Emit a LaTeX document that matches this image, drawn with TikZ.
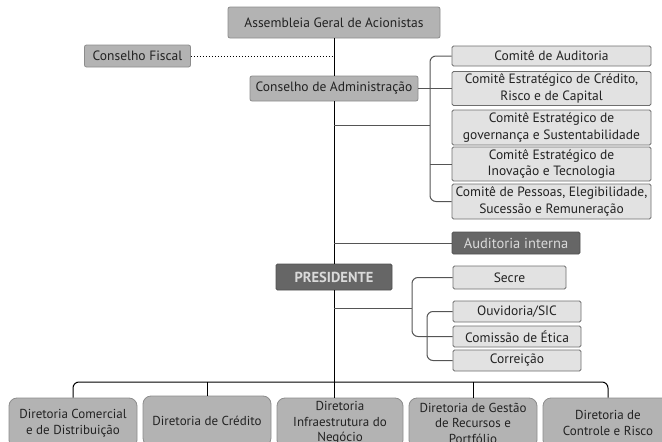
\documentclass[tikz,border=0pt]{standalone}
\usepackage{fontspec}
\setmainfont{PT Sans}
\definecolor{txtgray}{HTML}{222222}
\definecolor{midfill}{HTML}{B3B3B3}
\definecolor{midedge}{HTML}{8C8C8C}
\definecolor{lightfill}{HTML}{E2E2E2}
\definecolor{lightedge}{HTML}{6E6E6E}
\definecolor{darkfill}{HTML}{666666}
\definecolor{darktext}{HTML}{DADADA}
\definecolor{linegray}{HTML}{555555}
\tikzset{
  greybox/.style={draw=midedge, fill=midfill, rounded corners=2pt, line width=0.8pt},
  comitebox/.style={draw=lightedge, fill=lightfill, rounded corners=1.5pt, line width=0.8pt, minimum width=199},
  darkbox/.style={draw=darkfill!80!black, fill=darkfill, rounded corners=1.5pt, line width=0.8pt, text=darktext},
  dirbox/.style={draw=midedge, fill=midfill, rounded corners=8pt, line width=0.8pt, minimum width=128, minimum height=50,
    font=\fontsize{13}{15.5}\selectfont},
  mainline/.style={black, line width=1pt},
  brkline/.style={linegray, line width=1pt, rounded corners=6pt}
}
\begin{document}
\begin{tikzpicture}[x=1pt, y=-1pt, every node/.style={font=\fontsize{13.5}{16.5}\selectfont, text=txtgray, align=center, inner sep=0pt}]
  \useasboundingbox (0,0) rectangle (662,442);
  \clip (0,0) rectangle (662,442);

  % Top of the chart
  \node[greybox, minimum width=212, minimum height=31] (ageral) at (334,22.5) {Assembleia Geral de Acionistas};
  \node[greybox, minimum width=106, minimum height=22] (cfiscal) at (137.5,56) {Conselho Fiscal};
  \node[greybox, minimum width=168, minimum height=25] (cadm) at (334,88.5) {Conselho de Administração};

  % Committees
  \node[comitebox, minimum height=20] (caud) at (551.5,56) {Comitê de Auditoria};
  \node[comitebox, minimum height=34] (ccred) at (551.5,88.5) {Comitê Estratégico de Crédito,\\Risco e de Capital};
  \node[comitebox, minimum height=35] (cgov) at (551.5,127.5) {Comitê Estratégico de\\governança e Sustentabilidade};
  \node[comitebox, minimum height=34] (cinov) at (551.5,164) {Comitê Estratégico de\\Inovação e Tecnologia};
  \node[comitebox, minimum height=35] (cpess) at (551.5,201.5) {Comitê de Pessoas, Elegibilidade,\\Sucessão e Remuneração};

  % President and its units
  \node[darkbox, minimum width=128, minimum height=22, font=\fontsize{14.5}{16}\selectfont] (audint) at (516,243) {Auditoria interna};
  \node[darkbox, minimum width=116, minimum height=26, font=\fontsize{14.5}{16}\selectfont\bfseries] (pres) at (334,277) {PRESIDENTE};
  \node[comitebox, minimum width=113, minimum height=23] (secre) at (509.5,277.5) {Secre};
  \node[comitebox, minimum width=128, minimum height=21] (ouv) at (517,311.5) {Ouvidoria/SIC};
  \node[comitebox, minimum width=128, minimum height=21] (cetica) at (517,336.5) {Comissão de Ética};
  \node[comitebox, minimum width=128, minimum height=21] (correi) at (517,360.5) {Correição};

  % Directorates
  \node[dirbox] (dcom) at (73,423) {Diretoria Comercial\\e de Distribuição};
  \node[dirbox] (dcred) at (207,421) {Diretoria de Crédito};
  \node[dirbox, minimum width=126] (dinfra) at (340,423) {Diretoria\\Infraestrutura do\\Negócio};
  \node[dirbox] (dgest) at (473,423) {Diretoria de Gestão\\de Recursos e\\Portfólio};
  \node[dirbox, minimum width=130] (dctrl) at (608,423) {Diretoria de\\Controle e Risco};

  % Helper coordinates
  \coordinate (cb) at (430,0);
  \coordinate (pb) at (412,308);
  \coordinate (qb) at (427,0);
  \coordinate (bar) at (334,382);

  % Main line
  \draw[mainline] (ageral.south) -- (cadm.north);
  \draw[mainline] (cadm.south) -- (pres.north);
  \draw[mainline] (pres.south) -- (pres.south |- dinfra.north);
  \draw[black, line width=1pt, dotted] (cfiscal.east) -- (cfiscal.east -| ageral.south);

  % Committee bracket
  \draw[brkline] (caud.west) -| (cb |- cpess.west) -- (cpess.west);
  \draw[linegray, line width=1pt] (cadm.east) -- (ccred.west);
  \draw[linegray, line width=1pt] (cadm.south |- 0,125.5) -- (cb |- 0,125.5);
  \draw[linegray, line width=1pt] (cb |- cinov.west) -- (cinov.west);

  % President brackets
  \draw[linegray, line width=1pt] (pres.north |- audint.west) -- (audint.west);
  \draw[brkline] (secre.west) -| (pb |- cetica.west) -- (cetica.west);
  \draw[linegray, line width=1pt] (pres.south |- pb) -- (pb);
  \draw[brkline] (ouv.west) -| (qb |- correi.west) -- (correi.west);

  % Directorate bar
  \draw[black, line width=1pt, rounded corners=6pt] (dcom.north) |- (bar) -| (dctrl.north);
  \draw[black, line width=1pt] (dcred.north) -- (dcred.north |- bar);
  \draw[black, line width=1pt] (dgest.north) -- (dgest.north |- bar);
\end{tikzpicture}
\end{document}
